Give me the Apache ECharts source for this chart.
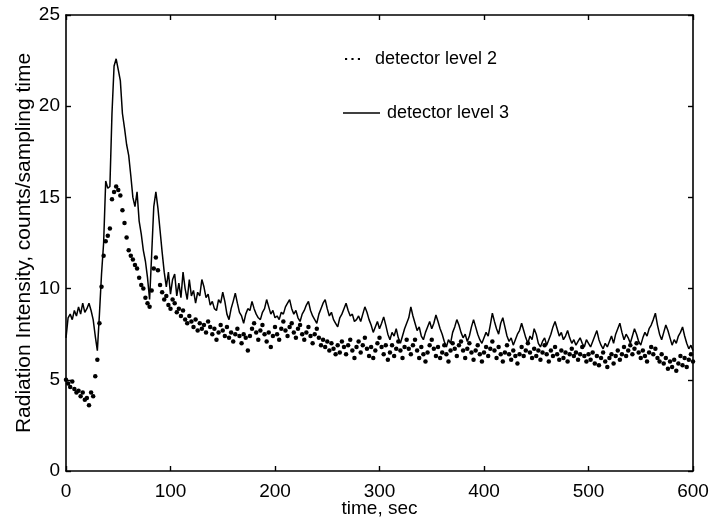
<!DOCTYPE html>
<html>
<head>
<meta charset="utf-8">
<script src="https://cdn.jsdelivr.net/npm/echarts@6/dist/echarts.min.js"></script>
<style>html,body{margin:0;padding:0;background:#fff}#c{width:712px;height:524px}</style>
</head>
<body>
<div id="c"></div>
<script>
// sampling interval of the recorded series (seconds)
const sampleStep = 2;
const seriesNames = ['detector level 2', 'detector level 3'];
const xTicks = [0, 100, 200, 300, 400, 500, 600];
const yTicks = [0, 5, 10, 15, 20, 25];

// detector level 3 (solid line), one value per 2 s from t = 0 to 600
const level3 = [
7.3,8.4,8.6,8.3,8.8,8.5,9.0,8.6,9.2,8.7,8.9,9.2,8.8,8.3,7.4,6.6,8.6,10.8,12.5,15.9,
15.5,15.6,19.6,22.2,22.6,22.0,21.4,19.6,18.8,17.9,17.3,16.2,15.0,14.5,15.3,13.7,13.0,12.1,11.5,10.6,
9.4,11.9,14.5,15.3,14.4,13.2,12.0,10.9,10.1,10.9,9.7,10.5,10.8,9.6,10.3,9.5,10.9,10.0,9.4,10.5,
9.6,9.9,9.2,9.8,9.6,10.5,10.1,9.5,9.7,9.1,9.3,8.9,8.8,9.4,9.2,9.8,9.3,8.6,8.3,8.9,
9.3,9.75,9.2,8.7,8.5,8.1,8.6,8.9,8.8,9.3,8.9,8.6,8.4,8.3,8.7,8.9,9.4,9.0,8.6,8.8,
8.4,8.5,8.3,8.7,8.6,9.0,9.2,9.4,8.9,8.6,8.8,8.4,8.2,8.6,8.8,9.1,9.3,8.8,8.5,8.3,
8.1,8.6,8.9,9.2,9.4,8.9,8.5,8.7,8.3,8.1,7.9,8.4,8.6,8.9,9.2,8.8,8.5,8.6,8.2,8.3,
8.5,8.2,8.6,9.0,8.7,8.3,8.0,7.6,7.9,8.2,7.8,8.1,8.45,8.0,7.5,7.2,7.6,7.4,7.8,7.3,
7.0,7.4,7.8,8.1,8.4,9.0,8.5,8.1,7.7,7.9,7.4,7.2,7.6,7.9,8.2,7.8,8.1,8.55,8.2,7.8,
7.5,7.1,6.8,7.2,7.0,7.6,7.9,8.3,8.0,7.6,7.3,7.5,7.1,7.4,7.9,8.3,7.9,7.5,7.2,7.0,
7.3,7.6,7.4,8.0,8.65,8.2,7.8,7.5,8.1,8.4,7.9,7.4,7.1,7.3,6.9,7.2,7.5,7.7,8.1,7.7,
7.3,7.0,7.4,7.2,7.8,7.5,7.0,6.8,7.1,7.3,6.9,7.2,7.5,7.9,8.2,7.8,7.4,7.6,7.2,7.4,
7.7,7.3,7.0,7.2,6.9,7.1,7.3,7.0,6.8,7.2,7.0,6.8,7.1,7.4,7.7,7.2,6.9,6.7,7.0,6.8,
7.1,7.4,7.0,7.5,7.8,8.1,7.6,7.2,7.5,7.3,7.0,7.4,7.8,7.5,7.1,6.9,7.3,7.6,7.4,7.8,
8.0,8.3,8.65,8.0,7.5,7.2,7.6,8.0,7.7,7.3,6.9,7.2,7.0,7.4,7.6,7.9,7.4,7.0,6.7,6.9,
6.6
];

// detector level 2 (dots), one value per 2 s from t = 0 to 600
const level2 = [
5.0,4.8,4.6,4.9,4.5,4.3,4.4,4.1,4.3,3.9,4.0,3.6,4.3,4.1,5.2,6.1,8.1,10.1,11.8,12.6,
12.9,13.3,14.9,15.3,15.6,15.4,15.1,14.3,13.6,12.8,12.1,11.8,11.6,11.3,11.1,10.6,10.2,10.0,9.5,9.2,
9.0,9.9,11.1,11.7,11.0,10.2,9.8,9.4,9.6,9.1,8.9,9.4,9.2,8.7,8.9,8.5,8.8,8.3,8.1,8.5,
8.2,7.9,8.3,7.7,8.1,7.8,8.0,7.6,8.2,7.9,7.5,7.8,7.2,7.6,8.0,7.7,7.4,7.9,7.3,7.6,
7.1,7.5,7.8,7.4,7.0,7.5,7.3,6.6,7.4,7.8,8.1,7.6,7.2,7.7,8.0,7.5,7.1,7.6,6.8,7.4,
7.9,7.5,7.2,7.8,8.2,7.7,7.4,7.9,8.1,7.6,7.3,7.8,8.0,7.5,7.2,7.6,7.9,7.4,7.0,7.5,
7.8,7.3,6.9,7.2,6.8,7.1,6.6,7.0,6.7,6.4,6.9,6.5,7.1,6.8,6.4,6.9,7.2,6.6,6.2,6.8,
7.1,6.5,6.9,7.3,6.7,6.3,6.8,6.2,6.6,7.0,7.3,6.8,6.4,6.9,6.1,6.5,6.9,6.3,6.7,7.1,
6.6,6.2,6.8,7.2,6.7,6.4,6.9,7.2,6.6,6.2,6.8,6.4,6.0,6.5,6.9,7.2,6.7,6.3,6.8,6.2,
6.5,6.9,6.4,6.0,6.6,7.0,6.7,6.3,6.9,7.1,6.6,6.2,6.7,7.0,6.5,6.1,6.6,6.9,6.4,6.0,
6.5,6.8,6.3,6.7,7.1,6.6,6.2,6.8,6.4,6.0,6.5,6.9,6.4,6.1,6.6,6.3,5.9,6.4,6.8,6.3,
6.6,7.0,6.5,6.2,6.7,6.3,6.6,6.1,6.5,6.9,6.4,6.0,6.6,6.3,6.8,6.4,6.1,6.6,6.2,6.5,
6.0,6.4,6.7,6.3,6.5,6.1,6.4,6.8,6.3,6.0,6.4,6.1,6.5,5.9,6.3,5.8,6.2,6.5,6.0,5.7,
6.2,6.4,5.9,6.3,6.6,6.1,6.4,6.8,6.3,6.6,6.9,6.4,6.7,7.0,6.5,6.2,6.6,6.3,6.0,6.5,
6.8,6.4,6.7,6.2,6.0,6.4,5.9,6.2,5.6,6.0,5.7,6.1,5.5,5.9,6.3,5.8,6.2,5.7,6.1,6.4,
6.0
];

const toPoints = arr => arr.map((v, i) => [i * sampleStep, v]);

const FONT = 'Liberation Sans, Arial, Helvetica, sans-serif';
const chart = echarts.init(document.getElementById('c'), null, {renderer: 'canvas'});

const lineStyleAxis = {show: true, onZero: false, lineStyle: {color: '#000', width: 1.6}};
const tickStyle = {show: true, inside: true, length: 5, lineStyle: {color: '#000', width: 1.4}};
const baseAxis = {
  min: xTicks[0], max: xTicks[xTicks.length - 1], interval: xTicks[1] - xTicks[0],
  axisLine: lineStyleAxis, axisTick: tickStyle, splitLine: {show: false}
};
const baseYAxis = {
  min: yTicks[0], max: yTicks[yTicks.length - 1], interval: yTicks[1] - yTicks[0],
  axisLine: lineStyleAxis, axisTick: tickStyle, splitLine: {show: false}
};

chart.setOption({
  animation: false,
  backgroundColor: '#fff',
  grid: {left: 66, right: 19, top: 15, bottom: 53, containLabel: false, outerBoundsMode: 'none'},
  legend: [
    {
      data: [seriesNames[0]], left: 340, top: 45, orient: 'vertical',
      icon: 'path://M0,0h2v2h-2z M6,0h2v2h-2z M12,0h2v2h-2z',
      itemWidth: 15, itemHeight: 2.5, selectedMode: false,
      textStyle: {fontFamily: FONT, fontSize: 18, color: '#000', padding: [0, 0, 6, 10]}
    },
    {
      data: [seriesNames[1]], left: 338, top: 99, orient: 'vertical',
      icon: 'rect', itemWidth: 37, itemHeight: 1.5, selectedMode: false,
      textStyle: {fontFamily: FONT, fontSize: 18, color: '#000', padding: [0, 0, 16, 2]}
    }
  ],
  xAxis: [
    Object.assign({}, baseAxis, {
      type: 'value', position: 'bottom',
      name: 'time, sec', nameLocation: 'middle', nameGap: 28, nameMoveOverlap: false,
      nameTextStyle: {fontFamily: FONT, fontSize: 19, color: '#000'},
      axisLabel: {fontFamily: FONT, fontSize: 19, color: '#000', margin: 11}
    }),
    Object.assign({}, baseAxis, {type: 'value', position: 'top', axisLabel: {show: false}})
  ],
  yAxis: [
    Object.assign({}, baseYAxis, {
      type: 'value', position: 'left',
      name: 'Radiation Intensity, counts/sampling time', nameLocation: 'middle', nameGap: 31,
      nameMoveOverlap: false,
      nameTextStyle: {fontFamily: FONT, fontSize: 21, color: '#000'},
      axisLabel: {fontFamily: FONT, fontSize: 19, color: '#000', margin: 6}
    }),
    Object.assign({}, baseYAxis, {type: 'value', position: 'right', axisLabel: {show: false}})
  ],
  series: [
    {
      name: seriesNames[0], type: 'scatter', xAxisIndex: 0, yAxisIndex: 0,
      data: toPoints(level2), symbol: 'circle', symbolSize: 4.5,
      itemStyle: {color: '#000', opacity: 1}
    },
    {
      name: seriesNames[1], type: 'line', xAxisIndex: 0, yAxisIndex: 0,
      data: toPoints(level3), showSymbol: false, symbol: 'none',
      lineStyle: {color: '#000', width: 1.5}, itemStyle: {color: '#000'}
    }
  ]
});
</script>
</body>
</html>
